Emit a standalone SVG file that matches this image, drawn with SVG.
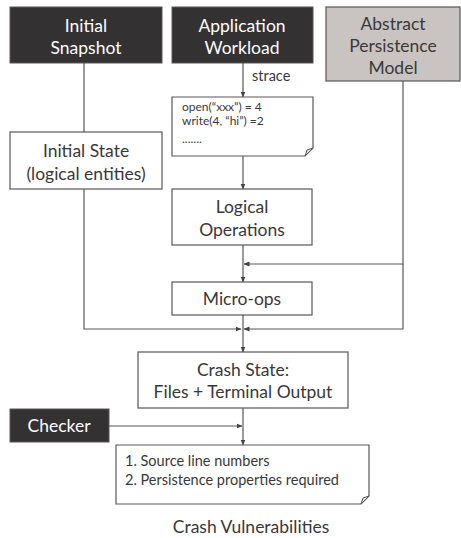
<svg xmlns="http://www.w3.org/2000/svg" width="461" height="538" viewBox="0 0 461 538">
<style>
.dark{fill:#333132;stroke:#5a5656;stroke-width:1}
.box{fill:#fff;stroke:#5a5656;stroke-width:1.2}
.gray{fill:#c9c4c1;stroke:#5a5656;stroke-width:1.2}
.t{font-family:Lato,"Open Sans",sans-serif;font-size:17.5px;fill:#3a3838;text-anchor:middle}
.w{fill:#fff}
.s{font-family:Lato,"Open Sans",sans-serif;font-size:12px;fill:#3a3838}
.m{font-family:Lato,"Open Sans",sans-serif;font-size:14.5px;fill:#3a3838}
.ln{fill:none;stroke:#5a5656;stroke-width:1.2}
.fold{fill:#e6e3e2;stroke:#5a5656;stroke-width:1}
</style>
<defs>
<marker id="ah" markerWidth="6" markerHeight="6" refX="5.5" refY="3" orient="auto" markerUnits="userSpaceOnUse">
<path d="M0,0.5 L6,3 L0,5.5 Z" fill="#444"/>
</marker>
</defs>
<g id="connectors">
<line class="ln" x1="243" y1="63" x2="243" y2="97" marker-end="url(#ah)"/>
<line class="ln" x1="84" y1="63" x2="84" y2="132"/>
<line class="ln" x1="243" y1="156" x2="243" y2="189" marker-end="url(#ah)"/>
<line class="ln" x1="243" y1="245" x2="243" y2="282" marker-end="url(#ah)"/>
<polyline class="ln" points="403,81 403,264 244,264" marker-end="url(#ah)"/>
<polyline class="ln" points="84,189 84,329 241,329" marker-end="url(#ah)"/>
<polyline class="ln" points="403,264 403,329 244,329" marker-end="url(#ah)"/>
<line class="ln" x1="243" y1="315" x2="243" y2="352" marker-end="url(#ah)"/>
<line class="ln" x1="109" y1="426" x2="242" y2="426" marker-end="url(#ah)"/>
<line class="ln" x1="243" y1="408" x2="243" y2="445" marker-end="url(#ah)"/>
<text class="m" x="252" y="81">strace</text>
</g>
<g id="initial-snapshot">
<rect class="dark" x="10" y="7" width="152" height="56"/>
<text class="t w" x="86" y="32">Initial</text>
<text class="t w" x="86" y="54">Snapshot</text>
</g>
<g id="application-workload">
<rect class="dark" x="172" y="7" width="141" height="56"/>
<text class="t w" x="242" y="32">Application</text>
<text class="t w" x="242" y="54">Workload</text>
</g>
<g id="abstract-persistence-model">
<rect class="gray" x="326" y="7" width="134" height="74"/>
<text class="t" x="393" y="30">Abstract</text>
<text class="t" x="393" y="52">Persistence</text>
<text class="t" x="393" y="74">Model</text>
</g>
<g id="trace">
<path class="box" d="M172,97 H313 V148 L305,156 H172 Z"/>
<path class="fold" d="M313,148 L305,156 L307,150 Z"/>
<text class="s" x="182" y="111">open(“xxx”) = 4</text>
<text class="s" x="182" y="125">write(4, “hi”) =2</text>
<text class="s" x="182" y="143">.......</text>
</g>
<g id="initial-state">
<rect class="box" x="10" y="132" width="152" height="57"/>
<text class="t" x="86" y="157">Initial State</text>
<text class="t" x="86" y="180">(logical entities)</text>
</g>
<g id="logical-operations">
<rect class="box" x="172" y="189" width="140" height="56"/>
<text class="t" x="242" y="213">Logical</text>
<text class="t" x="242" y="236">Operations</text>
</g>
<g id="micro-ops">
<rect class="box" x="172" y="282" width="140" height="33"/>
<text class="t" x="242" y="305">Micro-ops</text>
</g>
<g id="crash-state">
<rect class="box" x="138" y="352" width="210" height="56"/>
<text class="t" x="243" y="376">Crash State:</text>
<text class="t" x="243" y="398">Files + Terminal Output</text>
</g>
<g id="checker">
<rect class="dark" x="10" y="409" width="99" height="33"/>
<text class="t w" x="59" y="432">Checker</text>
</g>
<g id="crash-vulnerabilities">
<path class="box" d="M116,445 H369 V496 L361,504 H116 Z"/>
<path class="fold" d="M369,496 L361,504 L363,498 Z"/>
<text class="m" x="125" y="466">1. Source line numbers</text>
<text class="m" x="125" y="485">2. Persistence properties required</text>
<text class="t" x="251" y="533">Crash Vulnerabilities</text>
</g>
</svg>
